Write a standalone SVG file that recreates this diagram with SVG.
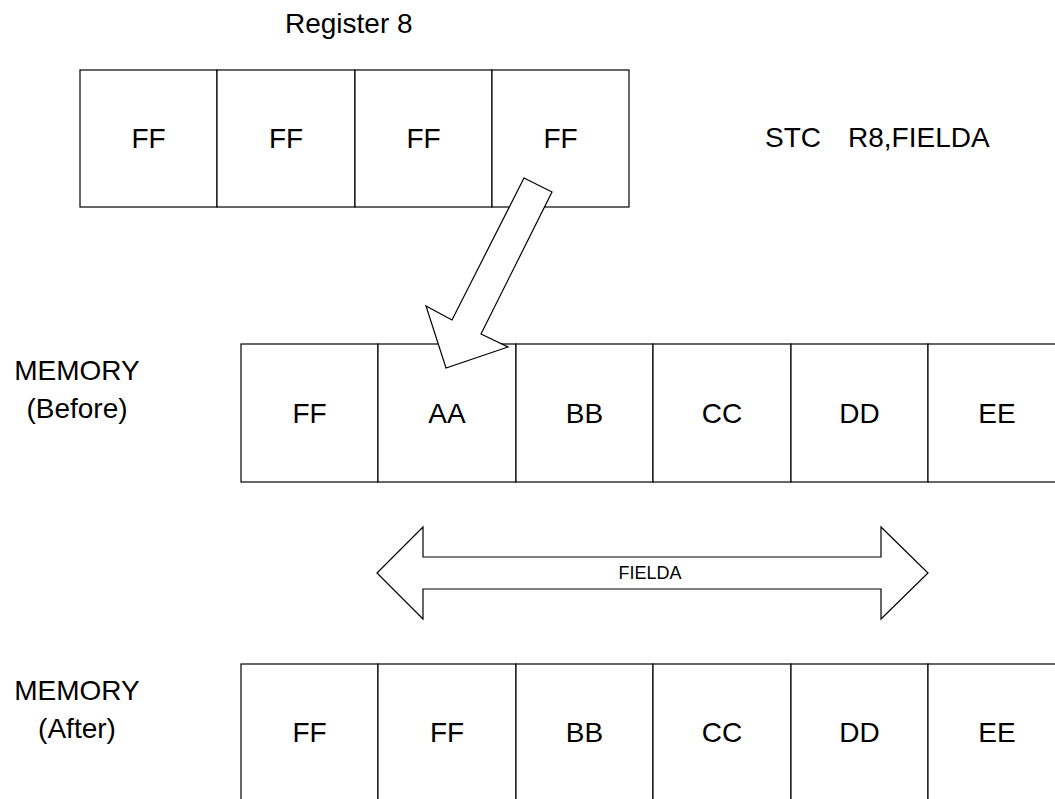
<svg xmlns="http://www.w3.org/2000/svg" width="1055" height="799" viewBox="0 0 1055 799">
<style>
.cell{fill:#fff;stroke:#000;stroke-width:1.2}
.t{font-family:"Liberation Sans",Arial,sans-serif;font-size:28px;fill:#000;text-anchor:middle}
.lbl{font-family:"Liberation Sans",Arial,sans-serif;font-size:28px;fill:#000}
.arrow{fill:#fff;stroke:#000;stroke-width:1.2;stroke-linejoin:miter}
.small{font-family:"Liberation Sans",Arial,sans-serif;font-size:18px;fill:#000;text-anchor:middle}
</style>
<rect width="1055" height="799" fill="#fff"/>
<text class="lbl" x="285" y="33">Register 8</text>
<g id="register8">
<g id="r0"><rect class="cell" x="80" y="70" width="137" height="137"/><text class="t" x="148.5" y="148">FF</text></g>
<g id="r1"><rect class="cell" x="217" y="70" width="138" height="137"/><text class="t" x="286" y="148">FF</text></g>
<g id="r2"><rect class="cell" x="355" y="70" width="137" height="137"/><text class="t" x="423.5" y="148">FF</text></g>
<g id="r3"><rect class="cell" x="492" y="70" width="137" height="137"/><text class="t" x="560.5" y="148">FF</text></g>
</g>
<text class="lbl" x="765" y="147">STC</text>
<text class="lbl" x="848" y="147">R8,FIELDA</text>
<g id="label-before">
<text class="t" x="77" y="380">MEMORY</text>
<text class="t" x="77" y="418">(Before)</text>
</g>
<g id="memory-before">
<g id="b0"><rect class="cell" x="241" y="344" width="137" height="138"/><text class="t" x="309.5" y="423">FF</text></g>
<g id="b1"><rect class="cell" x="378" y="344" width="138" height="138"/><text class="t" x="447" y="423">AA</text></g>
<g id="b2"><rect class="cell" x="516" y="344" width="137" height="138"/><text class="t" x="584.5" y="423">BB</text></g>
<g id="b3"><rect class="cell" x="653" y="344" width="138" height="138"/><text class="t" x="722" y="423">CC</text></g>
<g id="b4"><rect class="cell" x="791" y="344" width="137" height="138"/><text class="t" x="859.5" y="423">DD</text></g>
<g id="b5"><rect class="cell" x="928" y="344" width="138" height="138"/><text class="t" x="997" y="423">EE</text></g>
</g>
<g id="label-after">
<text class="t" x="77" y="700">MEMORY</text>
<text class="t" x="77" y="738">(After)</text>
</g>
<g id="memory-after">
<g id="a0"><rect class="cell" x="241" y="664" width="137" height="140"/><text class="t" x="309.5" y="742">FF</text></g>
<g id="a1"><rect class="cell" x="378" y="664" width="138" height="140"/><text class="t" x="447" y="742">FF</text></g>
<g id="a2"><rect class="cell" x="516" y="664" width="137" height="140"/><text class="t" x="584.5" y="742">BB</text></g>
<g id="a3"><rect class="cell" x="653" y="664" width="138" height="140"/><text class="t" x="722" y="742">CC</text></g>
<g id="a4"><rect class="cell" x="791" y="664" width="137" height="140"/><text class="t" x="859.5" y="742">DD</text></g>
<g id="a5"><rect class="cell" x="928" y="664" width="138" height="140"/><text class="t" x="997" y="742">EE</text></g>
</g>
<g id="connectors">
<polygon class="arrow" points="524,178 552,192 481,334 508,347 446,368 426,306 452,320"/>
<polygon class="arrow" points="377,573 423,527 423,557 881,557 881,527 928,573 881,619 881,589 423,589 423,619"/>
<text class="small" x="650" y="579">FIELDA</text>
</g>
</svg>
